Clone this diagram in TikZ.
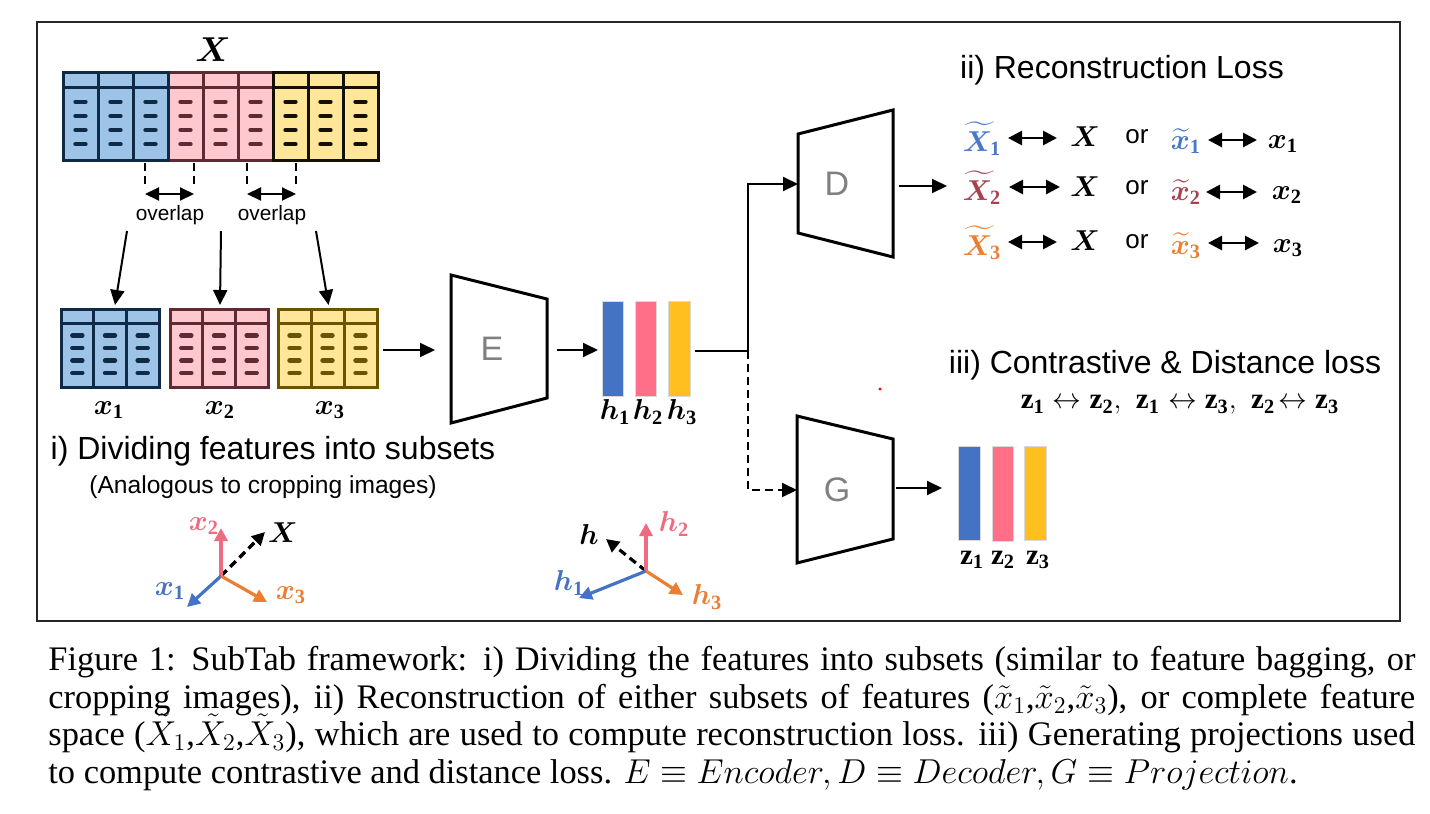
\documentclass[tikz,border=0pt]{standalone}
\usepackage{fontspec}
\setmainfont{Liberation Serif}
\newfontfamily\arial{Liberation Sans}
\usepackage{amsmath}
\usepackage{bm}
\usetikzlibrary{arrows.meta,calc}

\definecolor{tblueF}{HTML}{9DC3E6}
\definecolor{tblueL}{HTML}{0E2A47}
\definecolor{tpinkF}{HTML}{FFC7CE}
\definecolor{tpinkL}{HTML}{5E2A33}
\definecolor{tyelF}{HTML}{FFE699}
\definecolor{tyelL}{HTML}{141000}
\definecolor{tolivL}{HTML}{6B5300}
\definecolor{barB}{HTML}{4472C4}
\definecolor{barP}{HTML}{FF7088}
\definecolor{barY}{HTML}{FFC01F}
\definecolor{labB}{HTML}{4A78C8}
\definecolor{labR}{HTML}{A8424F}
\definecolor{labO}{HTML}{ED7D31}
\definecolor{axP}{HTML}{EF6B82}
\definecolor{encG}{HTML}{808080}

\newcommand{\ftab}[7]{%
  \node[tabbox, fill=#6, draw=#7, minimum width=#4*0.5pt, minimum height=#5*0.5pt, anchor=north west] (#1) at (#2,#3) {};
  \foreach \k in {1,2}{\draw[#7, line width=1.5pt] ($(#1.north west)+(#4*\k/3,0)$) -- ++(0,#5);}
  \draw[#7, line width=1.5pt] ($(#1.north west)+(0,0.18*#5)$) -- ++(#4,0);
  \foreach \c in {1,3,5}{\foreach \r in {0.34,0.50,0.66,0.82}{%
    \draw[#7, line width=2.2pt, line cap=round] ($(#1.north west)+(#4*\c/6-5,\r*#5)$) -- ++(10,0);}}%
}

\tikzset{
  tabbox/.style={rectangle, inner sep=0pt, outer sep=0pt, line width=1.5pt},
  arr/.style={-{Triangle[length=7.5pt,width=7pt]}, line width=1pt},
  darr/.style={{Triangle[length=7pt,width=6.5pt]}-{Triangle[length=7pt,width=6.5pt]}, line width=1pt},
  rarr/.style={{Triangle[length=7pt,width=7pt]}-{Triangle[length=7pt,width=7pt]}, line width=1.4pt},
  axarr/.style={-{Triangle[length=6.5pt,width=6.5pt]}, line width=1.6pt},
  dsh/.style={dash pattern=on 4pt off 2.5pt},
  trap/.style={line width=1.5pt, line join=miter},
  bar/.style={rectangle, inner sep=0pt, outer sep=0pt, draw=white!85!black, line width=0.3pt},
  ttl/.style={font=\arial\fontsize{16}{19}\selectfont, inner sep=0pt},
  subt/.style={font=\arial\fontsize{12.3}{15}\selectfont, inner sep=0pt},
  ovl/.style={font=\arial\fontsize{10.4}{12}\selectfont, inner sep=0pt},
  ortxt/.style={font=\arial\fontsize{13}{15}\selectfont, inner sep=0pt},
  enc/.style={font=\arial\fontsize{17}{20}\selectfont, text=encG, inner sep=0pt},
  mlab/.style={font=\fontsize{14.5}{16}\selectfont, inner sep=0pt},
  capt/.style={font=\fontsize{17.2}{18.9}\selectfont, inner sep=0pt, anchor=base west},
}

\begin{document}
\begin{tikzpicture}[x=0.5pt, y=-0.5pt]
\useasboundingbox (0,0) rectangle (1430,814);

% frame
\draw[line width=0.9pt, black!85] (37,22) rectangle (1400,621);

% big table X
\node[mlab, font=\fontsize{16}{18}\selectfont] (Xlab) at (213,50) {$\bm{X}$};
\ftab{bigP}{168}{72}{105}{88}{tpinkF}{tpinkL}
\ftab{bigB}{63}{72}{105}{88}{tblueF}{tblueL}
\ftab{bigY}{273}{72}{105}{88}{tyelF}{tyelL}

% overlap marks
\coordinate (o1a) at (145,163); \coordinate (o1b) at (194,163);
\coordinate (o2a) at (247,163); \coordinate (o2b) at (296,163);
\draw[dsh, line width=0.8pt] (o1a) -- ++(0,23);
\draw[dsh, line width=0.8pt] (o1b) -- ++(0,23);
\draw[dsh, line width=0.8pt] (o2a) -- ++(0,23);
\draw[dsh, line width=0.8pt] (o2b) -- ++(0,23);
\draw[darr] ($(o1a)+(0,31)$) -- ($(o1b)+(0,31)$);
\draw[darr] ($(o2a)+(0,31)$) -- ($(o2b)+(0,31)$);
\node[ovl] (ov1) at (170,215) {overlap};
\node[ovl] (ov2) at (272,215) {overlap};

% subset tables
\ftab{t1}{61}{309}{98}{78}{tblueF}{tblueL}
\ftab{t2}{170}{309}{98}{78}{tpinkF}{tpinkL}
\ftab{t3}{278}{309}{99}{78}{tyelF}{tolivL}

\coordinate (s1) at (127,231); \coordinate (s2) at (221,231); \coordinate (s3) at (316,231);
\draw[arr] (s1) -- ($(t1.north)+(5,-4)$);
\draw[arr] (s2) -- ($(t2.north)+(1,-4)$);
\draw[arr] (s3) -- ($(t3.north)+(1,-4)$);

\node[mlab] (lx1) at (109,410) {$\bm{x}_{\mathbf{1}}$};
\node[mlab] (lx2) at (220,410) {$\bm{x}_{\mathbf{2}}$};
\node[mlab] (lx3) at (330,410) {$\bm{x}_{\mathbf{3}}$};

\node[ttl] (ti1) at (273,451) {i) Dividing features into subsets};
\node[subt] (ti1b) at (263,487) {(Analogous to cropping images)};

% encoder
\draw[trap] (451,275) -- (547,299) -- (547,398) -- (451,423) -- cycle;
\node[enc] (E) at (492,349) {E};
\coordinate (Ein) at (435,350);
\draw[arr] ($(t3.east)+(6,2)$) -- (Ein);
\coordinate (Eout) at (557,350);
\coordinate (hin) at (598,350);

% h bars
\node[bar, fill=barB, minimum width=10.5pt, minimum height=47.5pt, anchor=north west] (h1) at (602,301) {};
\node[bar, fill=barP, minimum width=10.5pt, minimum height=47.5pt, anchor=north west] (h2) at (635,301) {};
\node[bar, fill=barY, minimum width=11pt, minimum height=47.5pt, anchor=north west] (h3) at (668,301) {};
\draw[arr] (Eout) -- (hin);
\node[mlab] (lh1) at (615,412) {$\bm{h}_{\mathbf{1}}$};
\node[mlab] (lh2) at (648,412) {$\bm{h}_{\mathbf{2}}$};
\node[mlab] (lh3) at (682,412) {$\bm{h}_{\mathbf{3}}$};

% routing
\coordinate (hout) at (695,351);
\coordinate (J) at (748,351);
\coordinate (Din) at (798,184);
\coordinate (Gin) at (797,490);
\draw[line width=1pt] (hout) -- (J);
\draw[arr] (J) |- (Din);
\draw[arr, dsh] (J) |- (Gin);

% decoder
\draw[trap] (798,134) -- (893,110) -- (893,257) -- (798,233) -- cycle;
\node[enc] (D) at (837,184) {D};
\draw[arr] (899,186) -- (947,186);

% reconstruction loss
\node[ttl] (ti2) at (1122,70) {ii) Reconstruction Loss};
\node[mlab, text=labB] (Xt1) at (982,139) {$\widetilde{\bm{X}}_{\mathbf{1}}$};
\node[mlab, text=labR] (Xt2) at (982,188) {$\widetilde{\bm{X}}_{\mathbf{2}}$};
\node[mlab, text=labO] (Xt3) at (982,243) {$\widetilde{\bm{X}}_{\mathbf{3}}$};
\node[mlab] (Xa) at (1085,137) {$\bm{X}$};
\node[mlab] (Xb) at (1085,187) {$\bm{X}$};
\node[mlab] (Xc) at (1085,241) {$\bm{X}$};
\draw[rarr] (1008,138) -- (1057,138);
\draw[rarr] (1009,187) -- (1060,187);
\draw[rarr] (1008,242) -- (1057,242);
\node[ortxt] (or1) at (1137,137) {or};
\node[ortxt] (or2) at (1137,188) {or};
\node[ortxt] (or3) at (1137,242) {or};
\node[mlab, text=labB] (xt1) at (1186,141) {$\widetilde{\bm{x}}_{\mathbf{1}}$};
\node[mlab, text=labR] (xt2) at (1186,192) {$\widetilde{\bm{x}}_{\mathbf{2}}$};
\node[mlab, text=labO] (xt3) at (1186,246) {$\widetilde{\bm{x}}_{\mathbf{3}}$};
\draw[rarr] (1208,140) -- (1257,140);
\draw[rarr] (1206,192) -- (1257,192);
\draw[rarr] (1208,243) -- (1259,243);
\node[mlab] (rx1) at (1283,144) {$\bm{x}_{\mathbf{1}}$};
\node[mlab] (rx2) at (1287,195) {$\bm{x}_{\mathbf{2}}$};
\node[mlab] (rx3) at (1288,248) {$\bm{x}_{\mathbf{3}}$};

% projection
\draw[trap] (797,416) -- (893,439) -- (893,539) -- (797,563) -- cycle;
\node[enc] (G) at (837,490) {G};
\node[bar, fill=barB, minimum width=11pt, minimum height=47pt, anchor=north west] (z1) at (958,446) {};
\node[bar, fill=barP, minimum width=10.5pt, minimum height=47.5pt, anchor=north west] (z2) at (992,446) {};
\node[bar, fill=barY, minimum width=11pt, minimum height=47pt, anchor=north west] (z3) at (1024,446) {};
\coordinate (Gout) at (896,488);
\coordinate (zin) at (942,488);
\draw[arr] (Gout) -- (zin);
\node[mlab] (lz1) at (972,560) {$\mathbf{z}_{\mathbf{1}}$};
\node[mlab] (lz2) at (1003,560) {$\mathbf{z}_{\mathbf{2}}$};
\node[mlab] (lz3) at (1038,560) {$\mathbf{z}_{\mathbf{3}}$};
\node[circle, fill=red, inner sep=0pt, minimum size=1.6pt] (dot) at (880,389) {};

\node[ttl] (ti3) at (1165,365) {iii) Contrastive \& Distance loss};
\node[mlab] (zpairs) at (1180,405) {$\mathbf{z}_{\mathbf{1}}\leftrightarrow\mathbf{z}_{\mathbf{2}}\mathbf{,}\ \ \mathbf{z}_{\mathbf{1}}\leftrightarrow\mathbf{z}_{\mathbf{3}}\mathbf{,}\ \ \mathbf{z}_{\mathbf{2}}\!\leftrightarrow\mathbf{z}_{\mathbf{3}}$};

% axes x
\coordinate (O1) at (221,576);
\coordinate (ax2) at (221,528);
\coordinate (ax1) at (187,607);
\coordinate (ax3) at (267,602);
\coordinate (aX) at (265,532);
\draw[axarr, dsh, black] (O1) -- (aX);
\draw[axarr, axP] (O1) -- (ax2);
\draw[axarr, barB] (O1) -- (ax1);
\draw[axarr, labO] (O1) -- (ax3);
\node[mlab, text=axP] (lax2) at (204,526) {$\bm{x}_{\mathbf{2}}$};
\node[mlab, text=barB] (lax1) at (170,591) {$\bm{x}_{\mathbf{1}}$};
\node[mlab, text=labO] (lax3) at (291,595) {$\bm{x}_{\mathbf{3}}$};
\node[mlab] (laX) at (283,533) {$\bm{X}$};

% axes h
\coordinate (O2) at (646,571);
\coordinate (ah2) at (646,523);
\coordinate (ah1) at (579,598);
\coordinate (ah3) at (683,595);
\coordinate (ah) at (606,539);
\draw[axarr, dsh, black] (O2) -- (ah);
\draw[axarr, axP] (O2) -- (ah2);
\draw[axarr, barB] (O2) -- (ah1);
\draw[axarr, labO] (O2) -- (ah3);
\node[mlab] (lah) at (589,534) {$\bm{h}$};
\node[mlab, text=axP] (lah2) at (674,524) {$\bm{h}_{\mathbf{2}}$};
\node[mlab, text=barB] (lah1) at (569,583) {$\bm{h}_{\mathbf{1}}$};
\node[mlab, text=labO] (lah3) at (707,597) {$\bm{h}_{\mathbf{3}}$};

% caption
\node[capt] (cap1) at (48,670) {\makebox[683.5pt][s]{Figure 1: SubTab framework: i) Dividing the features into subsets (similar to feature bagging, or}};
\node[capt] (cap2) at (48,708) {\makebox[683.5pt][s]{cropping images), ii) Reconstruction of either subsets of features ($\tilde{x}_1$,$\tilde{x}_2$,$\tilde{x}_3$), or complete feature}};
\node[capt] (cap3) at (48,745.5) {\makebox[683.5pt][s]{space ($\tilde{X}_1$,$\tilde{X}_2$,$\tilde{X}_3$), which are used to compute reconstruction loss. iii) Generating projections used}};
\node[capt] (cap4) at (48,783) {to compute contrastive and distance loss. $E\equiv Encoder, D\equiv Decoder, G\equiv Projection$.};
\end{tikzpicture}
\end{document}
